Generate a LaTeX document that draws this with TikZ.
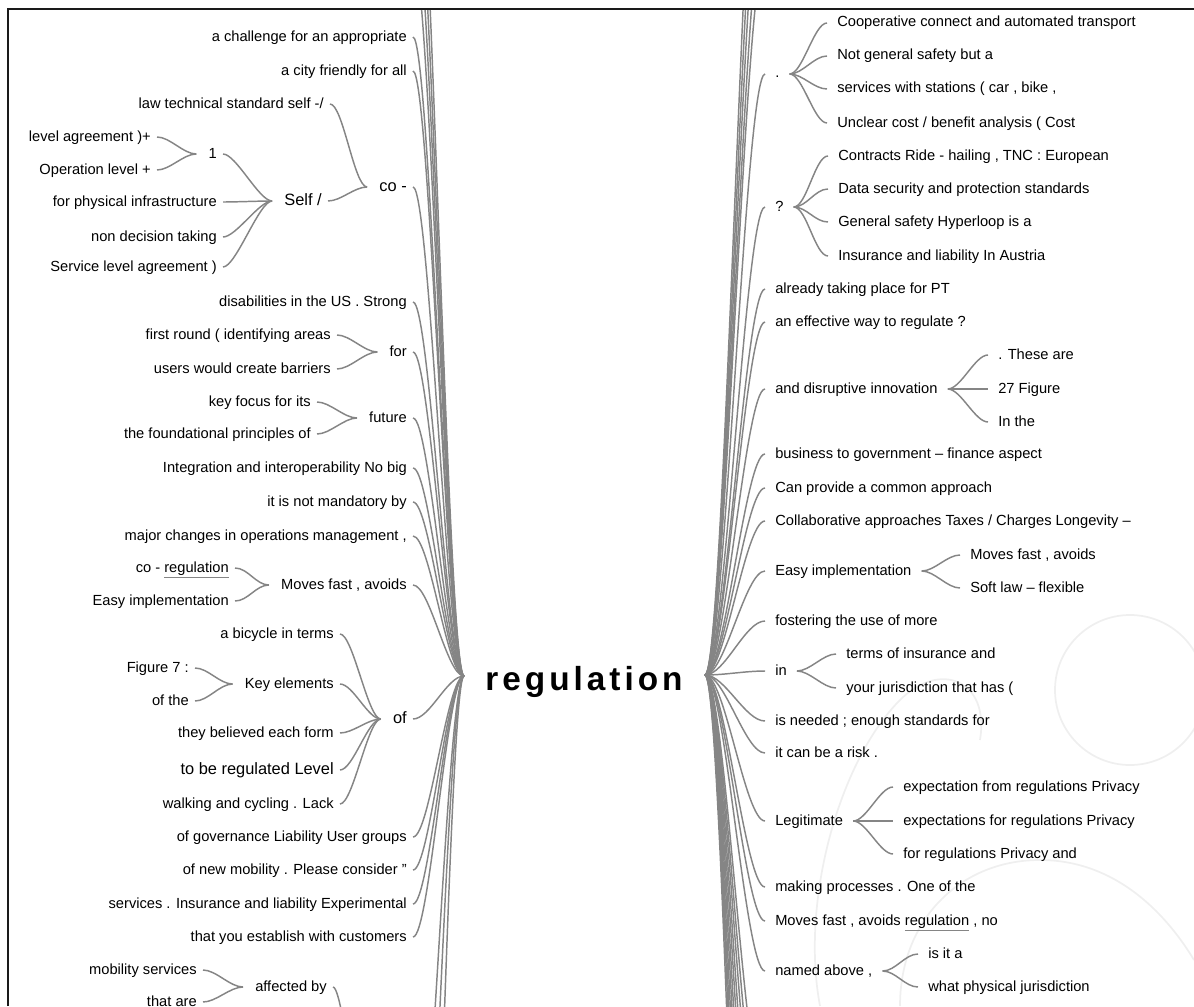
\documentclass[tikz,border=0pt]{standalone}
\usepackage{fontspec}
\setmainfont{Liberation Sans}
\usepackage{tikz}
\usetikzlibrary{positioning,calc}
\definecolor{ramal}{HTML}{858585}
\definecolor{marco}{HTML}{1A1A1A}
\definecolor{sello}{HTML}{EFEFEF}
\newcommand{\gul}[1]{{\color{ramal}\underline{\color{black}#1}}}

\begin{document}
\begin{tikzpicture}[x=0.75pt, y=-0.75pt, font=\fontsize{11}{13}\selectfont,
    branch/.style={draw=ramal, line width=1.1pt,
      to path={.. controls +(#1,0) and +(-#1,0) .. (\tikztotarget)}},
    branch/.default=17,
    lft/.style={anchor=east, inner xsep=4.5pt, inner ysep=0pt, text height=7pt, text depth=1pt},
    rgt/.style={anchor=west, inner xsep=7.5pt, inner ysep=0pt, text height=7pt, text depth=1pt},
    nrm/.style={}, big/.style={font=\fontsize{12.3}{15}\selectfont},
    wm/.style={draw=sello, line width=1.3pt}]
  \useasboundingbox (0,0) rectangle (1194,1006);
  \newcommand{\lsub}[2]{\draw[branch=13] (#1.east) to ([xshift=-4.5pt]#2.west);}
  \newcommand{\rsub}[2]{\draw[branch=13] (#1.east) to (#2.west);}

  % faint logo in the background
  \begin{scope}
  \clip (8,9) rectangle (1194,1006);
  \draw[wm] (1130,690) circle (75);
  \draw[wm] (820,1006) .. controls (800,900) and (840,760) .. (900,700)
            .. controls (940,660) and (990,680) .. (980,740);
  \draw[wm] (900,1006) .. controls (900,920) and (960,860) .. (1040,860)
            .. controls (1120,860) and (1170,920) .. (1194,960);
  \end{scope}

  % central topic
  \node[font=\fontsize{25}{30}\selectfont\bfseries\addfontfeature{LetterSpace=12},
        anchor=base, inner sep=0pt] (root) at (584,690) {regulation};
  \coordinate (hubL) at (464,676);
  \coordinate (hubR) at (705,675);

  \begin{scope}
  \clip (8,9) rectangle (1194,1006);

  % left side, first level
  \foreach \y/\n/\t/\s in {37/chal/{a challenge for an appropriate}/nrm,
      71/city/{a city friendly for all}/nrm, 187/co/{co -}/big,
      302/dis/{disabilities in the US . Strong}/nrm, 352/for/{for}/nrm,
      418/fut/{future}/nrm, 468/integ/{Integration and interoperability No big}/nrm,
      502/mand/{it is not mandatory by}/nrm,
      536/major/{major changes in operations management ,}/nrm,
      585/moves/{Moves fast , avoids}/nrm, 719/of/{of}/big,
      837/gov/{of governance Liability User groups}/nrm,
      870/newm/{of new mobility . Please consider "}/nrm,
      904/serv/{services . Insurance and liability Experimental}/nrm,
      937/cust/{that you establish with customers}/nrm}{
    \node[lft,\s] (\n) at (413,\y) {\t};
    \draw[branch] (\n.east) to (hubL);
  }
  % branches leaving the frame
  \foreach \y [count=\i] in {-45,-100,-160,-230,1230,1400,1700}{
    \coordinate (offl\i) at (413,\y);
    \draw[branch] (offl\i) to (hubL);
  }

  % co -
  \node[lft] (law) at (330,104) {law technical standard self -/};
  \node[lft,big] (self) at (328,201) {Self /};
  \lsub{law}{co} \lsub{self}{co}
  \node[lft] (one) at (223,154) {1};
  \node[lft] (phys) at (223,202) {for physical infrastructure};
  \node[lft] (nondec) at (223,237) {non decision taking};
  \node[lft] (slagr) at (223,267) {Service level agreement )};
  \foreach \c in {one,phys,nondec,slagr}{\lsub{\c}{self}}
  \node[lft] (lvl) at (157,137) {level agreement )+};
  \node[lft] (oper) at (157,170) {Operation level +};
  \lsub{lvl}{one} \lsub{oper}{one}

  % for, future
  \node[lft] (first) at (337,335) {first round ( identifying areas};
  \node[lft] (users) at (337,369) {users would create barriers};
  \lsub{first}{for} \lsub{users}{for}
  \node[lft] (key) at (317,402) {key focus for its};
  \node[lft] (found) at (317,434) {the foundational principles of};
  \lsub{key}{fut} \lsub{found}{fut}

  % Moves fast , avoids
  \node[lft] (coreg) at (235,568) {co - \gul{regulation}};
  \node[lft] (easyl) at (235,601) {Easy implementation};
  \lsub{coreg}{moves} \lsub{easyl}{moves}

  % of
  \node[lft] (bicy) at (340,634) {a bicycle in terms};
  \node[lft] (keyel) at (340,684) {Key elements};
  \node[lft] (belie) at (340,733) {they believed each form};
  \node[lft,big] (tobe) at (340,770) {to be regulated Level};
  \node[lft] (walk) at (340,804) {walking and cycling . Lack};
  \foreach \c in {bicy,keyel,belie,tobe,walk}{\lsub{\c}{of}}
  \node[lft] (fig) at (195,668) {Figure 7 :};
  \node[lft] (ofthe) at (195,701) {of the};
  \lsub{fig}{keyel} \lsub{ofthe}{keyel}

  % affected by (parent below the frame)
  \coordinate (offa) at (380,1230);
  \node[lft] (aff) at (333,987) {affected by};
  \draw[branch=13] (aff.east) to (offa);
  \node[lft] (mobs) at (203,970) {mobility services};
  \node[lft] (thatare) at (203,1002) {that are};
  \lsub{mobs}{aff} \lsub{thatare}{aff}

  % right side, first level
  \foreach \y/\n/\t in {74/dot/{.}, 207/qst/{?},
      289/alr/{already taking place for PT}, 322/eff/{an effective way to regulate ?},
      389/disr/{and disruptive innovation}, 454/bus/{business to government – finance aspect},
      488/can/{Can provide a common approach},
      521/coll/{Collaborative approaches Taxes /  Charges Longevity –},
      571/easyr/{Easy implementation}, 621/fost/{fostering the use of more},
      671/in/{in}, 721/need/{is needed ; enough standards for},
      753/risk/{it can be a risk .}, 821/legit/{Legitimate},
      887/mak/{making processes . One of the},
      921/movr/{Moves fast , avoids \gul{regulation} , no},
      971/named/{named above ,}}{
    \node[rgt] (\n) at (765,\y) {\t};
    \draw[branch=20] (hubR) to (\n.west);
  }
  \foreach \y [count=\i] in {-44,-90,-150,-210,-280,1100,1150,1200,1260,1320,
                             1390,1460,1540,1620,1700,1800}{
    \coordinate (offr\i) at (765,\y);
    \draw[branch=20] (hubR) to (offr\i);
  }

  % right side, second level
  \foreach \y/\n/\t in {23/coop/{Cooperative connect and automated transport},
      56/notg/{Not general safety but a}, 89/stat/{services with stations ( car , bike ,},
      123/uncl/{Unclear cost /  benefit analysis ( Cost}}{
    \node[rgt] (\n) at (827,\y) {\t};
    \rsub{dot}{\n}
  }
  \foreach \y/\n/\t in {156/contr/{Contracts Ride - hailing , TNC : European},
      189/data/{Data security and protection standards},
      222/gens/{General safety Hyperloop is a},
      256/insu/{Insurance and liability In Austria}}{
    \node[rgt] (\n) at (828,\y) {\t};
    \rsub{qst}{\n}
  }
  \foreach \y/\n/\t in {355/these/{. These are}, 389/fig27/{27 Figure}, 422/inthe/{In the}}{
    \node[rgt] (\n) at (988,\y) {\t};
    \rsub{disr}{\n}
  }
  \node[rgt] (movf) at (960,555) {Moves fast , avoids};
  \node[rgt] (soft) at (960,588) {Soft law – flexible};
  \rsub{easyr}{movf} \rsub{easyr}{soft}
  \node[rgt] (terms) at (836,654) {terms of  insurance and};
  \node[rgt] (juris) at (836,688) {your jurisdiction that has (};
  \rsub{in}{terms} \rsub{in}{juris}
  \foreach \y/\n/\t in {787/expa/{expectation from regulations Privacy},
      821/expb/{expectations for regulations Privacy},
      854/expc/{for regulations Privacy and}}{
    \node[rgt] (\n) at (893,\y) {\t};
    \rsub{legit}{\n}
  }
  \node[rgt] (isit) at (918,954) {is it a};
  \node[rgt] (what) at (918,987) {what physical jurisdiction};
  \rsub{named}{isit} \rsub{named}{what}
  \end{scope}

  % frame
  \draw[marco, line width=1.5pt] (8,1006) -- (8,9) -- (1194,9);
\end{tikzpicture}
\end{document}
